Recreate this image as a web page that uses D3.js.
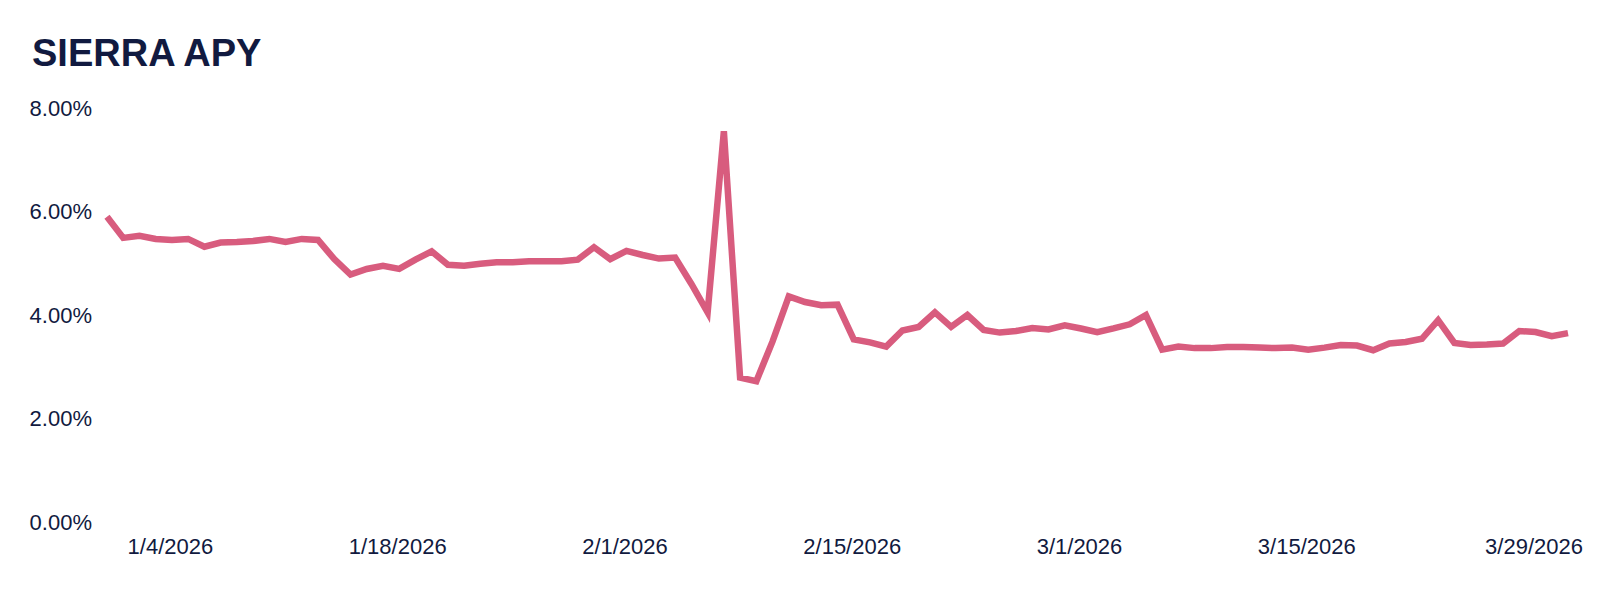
<!DOCTYPE html>
<html>
<head>
<meta charset="utf-8">
<script src="https://cdn.jsdelivr.net/npm/d3@7"></script>
<style>
  html, body { margin: 0; padding: 0; background: #ffffff; }
  svg { display: block; }
</style>
</head>
<body>
<svg id="chart" width="1600" height="589"></svg>
<script>
// ---- data ----
const title = "SIERRA APY";
const startDate = "2025-12-31";
const endDate = "2026-03-31";
const apyValues = [
  5.90, 5.49, 5.53, 5.47, 5.45, 5.47, 5.32, 5.40, 5.41, 5.43,
  5.47, 5.41, 5.47, 5.45, 5.08, 4.78, 4.89, 4.95, 4.89, 5.07,
  5.23, 4.97, 4.95, 4.99, 5.02, 5.02, 5.04, 5.04, 5.04, 5.07,
  5.31, 5.08, 5.24, 5.16, 5.09, 5.11, 4.60, 4.05, 7.55, 2.79,
  2.72, 3.49, 4.36, 4.25, 4.19, 4.20, 3.53, 3.47, 3.39, 3.70,
  3.77, 4.05, 3.77, 4.00, 3.71, 3.66, 3.69, 3.75, 3.72, 3.80,
  3.74, 3.67, 3.74, 3.82, 4.00, 3.33, 3.39, 3.36, 3.36, 3.38,
  3.38, 3.37, 3.36, 3.37, 3.33, 3.37, 3.42, 3.41, 3.32, 3.45,
  3.48, 3.54, 3.90, 3.46, 3.42, 3.43, 3.45, 3.69, 3.67, 3.59,
  3.65
];
const yTicks = [0, 2, 4, 6, 8];
const xTickLabels = ["2026-01-04", "2026-01-18", "2026-02-01", "2026-02-15", "2026-03-01", "2026-03-15", "2026-03-29"];

// ---- build ----
const parse = d3.utcParse("%Y-%m-%d");
const dates = d3.utcDay.range(parse(startDate), d3.utcDay.offset(parse(endDate), 1));
const data = dates.map((d, i) => ({ date: d, value: apyValues[i] }));

const svg = d3.select("#chart");
const x = d3.scaleUtc().domain([parse(startDate), parse(endDate)]).range([107, 1568]);
const y = d3.scaleLinear().domain([0, 8]).range([522, 108]);

const textColor = "#111a40";
const fontFamily = "'Liberation Sans', Arial, sans-serif";

svg.append("text")
  .attr("x", 32).attr("y", 66)
  .attr("font-family", fontFamily)
  .attr("font-size", 38)
  .attr("font-weight", "bold")
  .attr("fill", textColor)
  .text(title);

const yAxis = svg.append("g")
  .attr("transform", "translate(92,0)")
  .call(d3.axisLeft(y).tickValues(yTicks).tickSize(0).tickPadding(0)
    .tickFormat(d => d3.format(".2f")(d) + "%"));
yAxis.select(".domain").remove();
yAxis.selectAll("text")
  .attr("font-family", fontFamily)
  .attr("font-size", 22)
  .attr("fill", textColor);

const fmtDate = d => `${d.getUTCMonth() + 1}/${d.getUTCDate()}/${d.getUTCFullYear()}`;
const xAxis = svg.append("g")
  .attr("transform", "translate(-2,522)")
  .call(d3.axisBottom(x).tickValues(xTickLabels.map(parse)).tickSize(0).tickPadding(16.5)
    .tickFormat(fmtDate));
xAxis.select(".domain").remove();
xAxis.selectAll("text")
  .attr("font-family", fontFamily)
  .attr("font-size", 22)
  .attr("fill", textColor);

const line = d3.line().x(d => x(d.date)).y(d => y(d.value));
svg.append("path")
  .datum(data)
  .attr("d", line)
  .attr("fill", "none")
  .attr("stroke", "#d85c7e")
  .attr("stroke-width", 6.5)
  .attr("stroke-linejoin", "miter")
  .attr("stroke-miterlimit", 4);
</script>
</body>
</html>
